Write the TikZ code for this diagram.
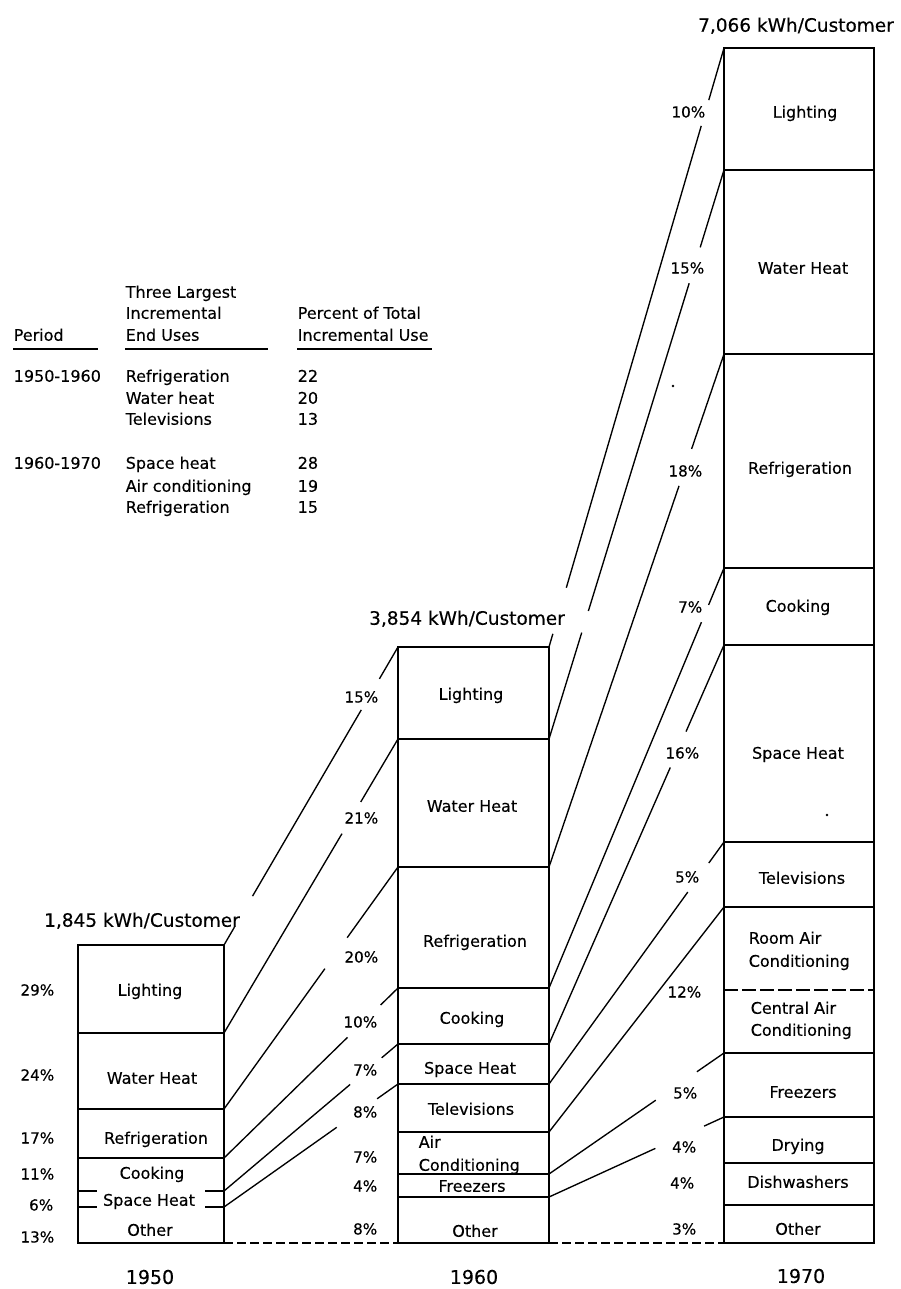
\documentclass[tikz,border=0pt]{standalone}
\usepackage{fontspec}
\setmainfont{DejaVu Sans}[FakeBold=0.3]
\usetikzlibrary{calc}

% connector between two boundary points with one break for a label
\newcommand\gapline[4]{\draw[link] (#1) -- ($(#1)!#3!(#2)$) ($(#1)!#4!(#2)$) -- (#2);}

\begin{document}
\begin{tikzpicture}[x=1pt,y=-1pt,line width=1.5pt,
  lbl/.style={font=\fontsize{16}{18}\selectfont,inner sep=0pt,text height=11.5pt,text depth=0pt},
  pct/.style={font=\fontsize{15.2}{18}\selectfont,inner sep=0pt,text height=11pt,text depth=0pt,anchor=east},
  head/.style={font=\fontsize{18.5}{20}\selectfont,inner sep=0pt,text height=13.5pt,text depth=0pt},
  yr/.style={font=\fontsize{19}{20}\selectfont,inner sep=0pt,text height=13.8pt,text depth=0pt},
  tab/.style={font=\fontsize{16}{18}\selectfont,inner sep=0pt,text height=11.5pt,text depth=0pt,anchor=west},
  link/.style={line width=1.35pt},
  rule/.style={line width=1.2pt},
  base/.style={line width=1.4pt,dash pattern=on 9pt off 4pt},
  split/.style={line width=1.4pt,dash pattern=on 14pt off 4pt}
]
\useasboundingbox (0,0) rectangle (901,1289);

% ---------- summary table ----------
\node[tab] (tThree) at (125,292) {Three Largest};
\node[tab] (tIncr)  at (125,313) {Incremental};
\node[tab] (tPer)   at (13,335)  {Period};
\node[tab] (tEnd)   at (125,335) {End Uses};
\node[tab] (tPct)   at (297,313) {Percent of Total};
\node[tab] (tUse)   at (297,335) {Incremental Use};
\draw[rule] (13,349) -- (98,349);
\draw[rule] (125,349) -- (268,349);
\draw[rule] (297,349) -- (432,349);

\node[tab] (p1) at (13,376)  {1950-1960};
\node[tab] (u1) at (125,376) {Refrigeration};  \node[tab] (n1) at (297,376) {22};
\node[tab] (u2) at (125,398) {Water heat};     \node[tab] (n2) at (297,398) {20};
\node[tab] (u3) at (125,419) {Televisions};    \node[tab] (n3) at (297,419) {13};
\node[tab] (p2) at (13,463)  {1960-1970};
\node[tab] (u4) at (125,463) {Space heat};     \node[tab] (n4) at (297,463) {28};
\node[tab] (u5) at (125,486) {Air conditioning}; \node[tab] (n5) at (297,486) {19};
\node[tab] (u6) at (125,507) {Refrigeration};  \node[tab] (n6) at (297,507) {15};

% ---------- boundary points of the three columns ----------
\foreach \n/\y in {0/945,1/1033,2/1109,3/1158,4/1191,5/1207,b/1243}
  {\coordinate (aL\n) at (78,\y); \coordinate (aR\n) at (224,\y);}
\foreach \n/\y in {0/647,1/739,2/867,3/988,4/1044,5/1084,6/1132,7/1174,8/1197,b/1243}
  {\coordinate (bL\n) at (398,\y); \coordinate (bR\n) at (549,\y);}
\foreach \n/\y in {0/48,1/170,2/354,3/568,4/645,5/842,6/907,7/990,8/1053,9/1117,10/1163,11/1205,b/1243}
  {\coordinate (cL\n) at (724,\y); \coordinate (cR\n) at (874,\y);}

% ---------- 1950 column ----------
\draw (aL0) rectangle (aRb);
\foreach \n in {1,2,3} \draw (aL\n) -- (aR\n);
\foreach \n in {4,5} \draw (aL\n) -- ++(19,0) (aR\n) -- ++(-19,0);

% ---------- 1960 column ----------
\draw (bL0) rectangle (bRb);
\foreach \n in {1,...,8} \draw (bL\n) -- (bR\n);

% ---------- 1970 column ----------
\draw (cL0) rectangle (cRb);
\foreach \n in {1,...,6,8,9,10,11} \draw (cL\n) -- (cR\n);
\draw[split] (cL7) -- (cR7);

% ---------- common base line ----------
\draw[base] (aRb) -- (bLb);
\draw[base] (bRb) -- (cLb);

% ---------- connectors 1950 -> 1960 ----------
\draw[link] (aR0) -- ($(aR0)!0.06!(bL0)$) ($(aR0)!0.164!(bL0)$) -- ($(aR0)!0.789!(bL0)$)
            ($(aR0)!0.893!(bL0)$) -- (bL0);
\gapline{aR1}{bL1}{0.678}{0.786}
\gapline{aR2}{bL2}{0.58}{0.708}
\gapline{aR3}{bL3}{0.71}{0.9}
\gapline{aR4}{bL4}{0.725}{0.906}
\gapline{aR5}{bL5}{0.648}{0.88}

% ---------- connectors 1960 -> 1970 ----------
\draw[link] (bR0) -- ($(bR0)!0.022!(cL0)$) ($(bR0)!0.099!(cL0)$) -- ($(bR0)!0.87!(cL0)$)
            ($(bR0)!0.913!(cL0)$) -- (cL0);
\draw[link] (bR1) -- ($(bR1)!0.187!(cL1)$) ($(bR1)!0.225!(cL1)$) -- ($(bR1)!0.801!(cL1)$)
            ($(bR1)!0.864!(cL1)$) -- (cL1);
\gapline{bR2}{cL2}{0.743}{0.815}
\gapline{bR3}{cL3}{0.871}{0.912}
\gapline{bR4}{cL4}{0.693}{0.783}
\gapline{bR5}{cL5}{0.793}{0.913}
\draw[link] (bR6) -- (cL6);
\gapline{bR7}{cL8}{0.61}{0.845}
\gapline{bR8}{cL9}{0.608}{0.886}

% ---------- totals ----------
\node[head] (h50) at (142,920) {1,845 kWh/Customer};
\node[head] (h60) at (467,618) {3,854 kWh/Customer};
\node[head] (h70) at (796,25)  {7,066 kWh/Customer};

% ---------- 1950 labels ----------
\node[lbl] (a-light) at (150,990)  {Lighting};
\node[lbl] (a-water) at (152,1078) {Water Heat};
\node[lbl] (a-refr)  at (156,1138) {Refrigeration};
\node[lbl] (a-cook)  at (152,1173) {Cooking};
\node[lbl] (a-space) at (149,1200) {Space Heat};
\node[lbl] (a-other) at (150,1230) {Other};
\node[pct] (ap0) at (55,990)  {29\%};
\node[pct] (ap1) at (55,1075) {24\%};
\node[pct] (ap2) at (55,1138) {17\%};
\node[pct] (ap3) at (55,1174) {11\%};
\node[pct] (ap4) at (54,1205) {6\%};
\node[pct] (ap5) at (55,1237) {13\%};

% ---------- 1960 labels ----------
\node[lbl] (b-light) at (471,694)  {Lighting};
\node[lbl] (b-water) at (472,806)  {Water Heat};
\node[lbl] (b-refr)  at (475,941)  {Refrigeration};
\node[lbl] (b-cook)  at (472,1018) {Cooking};
\node[lbl] (b-space) at (470,1068) {Space Heat};
\node[lbl] (b-tv)    at (471,1109) {Televisions};
\node[lbl,anchor=west] (b-air)  at (418,1142) {Air};
\node[lbl,anchor=west] (b-cond) at (418,1165) {Conditioning};
\node[lbl] (b-frz)   at (472,1186) {Freezers};
\node[lbl] (b-other) at (475,1231) {Other};
\node[pct] (bp0) at (379,697)  {15\%};
\node[pct] (bp1) at (379,818)  {21\%};
\node[pct] (bp2) at (379,957)  {20\%};
\node[pct] (bp3) at (378,1022) {10\%};
\node[pct] (bp4) at (378,1070) {7\%};
\node[pct] (bp5) at (378,1112) {8\%};
\node[pct] (bp6) at (378,1157) {7\%};
\node[pct] (bp7) at (378,1186) {4\%};
\node[pct] (bp8) at (378,1229) {8\%};

% ---------- 1970 labels ----------
\node[lbl] (c-light) at (805,112)  {Lighting};
\node[lbl] (c-water) at (803,268)  {Water Heat};
\node[lbl] (c-refr)  at (800,468)  {Refrigeration};
\node[lbl] (c-cook)  at (798,606)  {Cooking};
\node[lbl] (c-space) at (798,753)  {Space Heat};
\node[lbl] (c-tv)    at (802,878)  {Televisions};
\node[lbl,anchor=west] (c-rac1) at (748,938)  {Room Air};
\node[lbl,anchor=west] (c-rac2) at (748,961)  {Conditioning};
\node[lbl,anchor=west] (c-cac1) at (750,1008) {Central Air};
\node[lbl,anchor=west] (c-cac2) at (750,1030) {Conditioning};
\node[lbl] (c-frz)   at (803,1092) {Freezers};
\node[lbl] (c-dry)   at (798,1145) {Drying};
\node[lbl] (c-dish)  at (798,1182) {Dishwashers};
\node[lbl] (c-other) at (798,1229) {Other};
\node[pct] (cp0)  at (706,112)  {10\%};
\node[pct] (cp1)  at (705,268)  {15\%};
\node[pct] (cp2)  at (703,471)  {18\%};
\node[pct] (cp3)  at (703,607)  {7\%};
\node[pct] (cp4)  at (700,753)  {16\%};
\node[pct] (cp5)  at (700,877)  {5\%};
\node[pct] (cp6)  at (702,992)  {12\%};
\node[pct] (cp7)  at (698,1093) {5\%};
\node[pct] (cp8)  at (697,1147) {4\%};
\node[pct] (cp9)  at (695,1183) {4\%};
\node[pct] (cp10) at (697,1229) {3\%};

% ---------- years ----------
\node[yr] (y50) at (150,1277) {1950};
\node[yr] (y60) at (474,1277) {1960};
\node[yr] (y70) at (801,1276) {1970};

% ---------- specks ----------
\fill (673,386) circle (1.3pt);
\fill (827,815) circle (1.3pt);
\end{tikzpicture}
\end{document}
